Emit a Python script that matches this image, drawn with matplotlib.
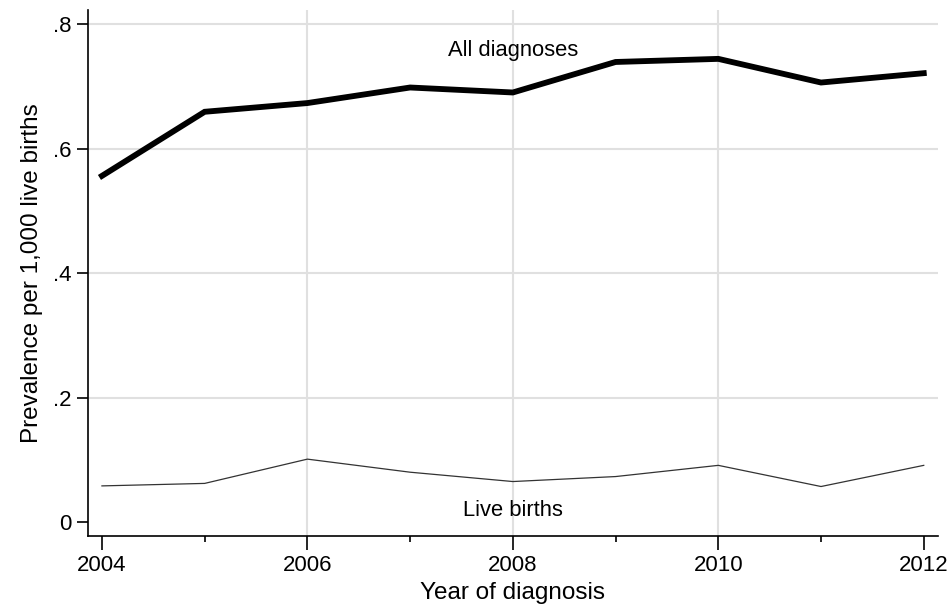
import numpy as np
import matplotlib.pyplot as plt
from matplotlib.ticker import FixedLocator

plt.rcParams['font.family'] = ['Liberation Sans', 'DejaVu Sans']

# prevalence per 1,000 live births by year of diagnosis
years = np.arange(2004, 2013)
all_diagnoses = [0.556, 0.659, 0.673, 0.698, 0.690, 0.739, 0.744, 0.706, 0.721]
live_births = [0.058, 0.062, 0.101, 0.080, 0.065, 0.073, 0.091, 0.057, 0.091]

yticks = [0, 0.2, 0.4, 0.6, 0.8]
ytick_labels = ['0', '.2', '.4', '.6', '.8']
xticks = [2004, 2006, 2008, 2010, 2012]

fig = plt.figure(figsize=(9.52, 6.1), dpi=100)
ax = fig.add_axes([0.0924, 0.1213, 0.8926, 0.8623])

# grid lines: horizontal at .2-.8, vertical at inner even years
for y in yticks[1:]:
    ax.axhline(y, color='#e0e0e0', lw=1.5, zorder=0)
for x in xticks[1:-1]:
    ax.axvline(x, color='#e0e0e0', lw=1.5, zorder=0)

ax.plot(years, all_diagnoses, color='black', lw=4.2, solid_joinstyle='miter', zorder=3)
ax.plot(years, live_births, color='#333333', lw=0.9, zorder=3)

ax.text(2008, 0.758, 'All diagnoses', ha='center', va='center', fontsize=15.8)
ax.text(2008, 0.019, 'Live births', ha='center', va='center', fontsize=15.8)

ax.set_xlim(2004 - 0.136, 2012 + 0.136)
ax.set_ylim(-0.0225, 0.8225)
ax.set_xticks(xticks)
ax.xaxis.set_minor_locator(FixedLocator([2005, 2007, 2009, 2011]))
ax.set_yticks(yticks)
ax.set_yticklabels(ytick_labels)

ax.spines['top'].set_visible(False)
ax.spines['right'].set_visible(False)
ax.spines['left'].set_linewidth(1.2)
ax.spines['bottom'].set_linewidth(1.2)
ax.tick_params(axis='x', which='major', length=10, width=1.2, labelsize=16, pad=4)
ax.tick_params(axis='x', which='minor', length=4, width=1.2)
ax.tick_params(axis='y', which='major', length=8, width=1.2, labelsize=16, pad=4)

ax.set_xlabel('Year of diagnosis', fontsize=17.5, labelpad=4)
ax.set_ylabel('Prevalence per 1,000 live births', fontsize=17.5, labelpad=7)

fig.savefig('out.png', dpi=100)
